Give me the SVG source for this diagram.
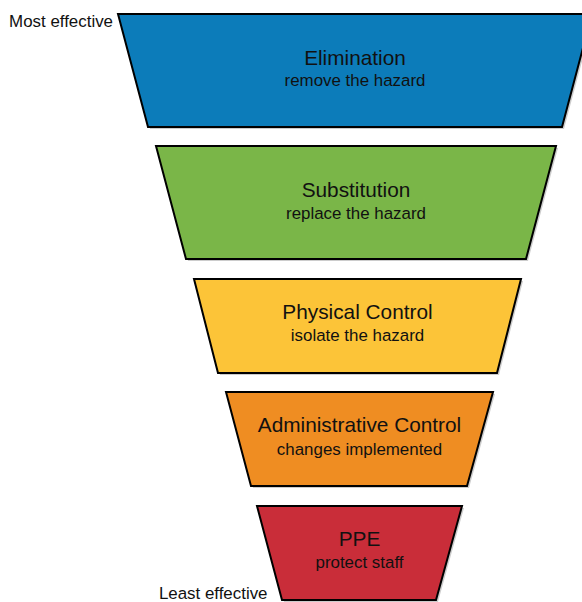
<svg xmlns="http://www.w3.org/2000/svg" width="582" height="602" viewBox="0 0 582 602">
  <style>
    .shape { stroke: #000; stroke-width: 2; stroke-linejoin: miter; }
    .shadow { fill: #000; fill-opacity: 0.2; stroke: none; }
    .title { font-family: "Liberation Sans", Arial, sans-serif; font-size: 20.8px; fill: #111; text-anchor: middle; }
    .sub { font-family: "Liberation Sans", Arial, sans-serif; font-size: 16.9px; fill: #111; text-anchor: middle; }
    .label { font-family: "Liberation Sans", Arial, sans-serif; font-size: 16.9px; fill: #111; text-anchor: end; }
  </style>
  <rect width="582" height="602" fill="#fff"/>
  <g id="elimination">
    <polygon class="shadow" points="120,16 594,16 564,129 150,129"/>
    <polygon class="shape" fill="#0c7cba" points="118,14 592,14 562,127 148,127"/>
    <text class="title" x="355" y="65">Elimination</text>
    <text class="sub" x="355" y="86">remove the hazard</text>
  </g>
  <g id="substitution">
    <polygon class="shadow" points="158,148 558,148 528,261 188,261"/>
    <polygon class="shape" fill="#7ab648" points="156,146 556,146 526,259 186,259"/>
    <text class="title" x="356" y="197">Substitution</text>
    <text class="sub" x="356" y="219">replace the hazard</text>
  </g>
  <g id="physical-control">
    <polygon class="shadow" points="196,281 523,281 499,375 220,375"/>
    <polygon class="shape" fill="#fcc438" points="194,279 521,279 497,373 218,373"/>
    <text class="title" x="357.5" y="319">Physical Control</text>
    <text class="sub" x="357.5" y="341">isolate the hazard</text>
  </g>
  <g id="administrative-control">
    <polygon class="shadow" points="228,394 495,394 469,488 253,488"/>
    <polygon class="shape" fill="#ef8d22" points="226,392 493,392 467,486 251,486"/>
    <text class="title" x="359.5" y="432">Administrative Control</text>
    <text class="sub" x="359.5" y="454.5">changes implemented</text>
  </g>
  <g id="ppe">
    <polygon class="shadow" points="259,508 464,508 438,602 284,602"/>
    <polygon class="shape" fill="#c92d39" points="257,506 462,506 436,600 282,600"/>
    <text class="title" x="359.5" y="546">PPE</text>
    <text class="sub" x="359.5" y="568">protect staff</text>
  </g>
  <g id="labels">
    <text class="label" x="113" y="27">Most effective</text>
    <text class="label" x="267.5" y="599">Least effective</text>
  </g>
  <g id="connectors"></g>
</svg>
